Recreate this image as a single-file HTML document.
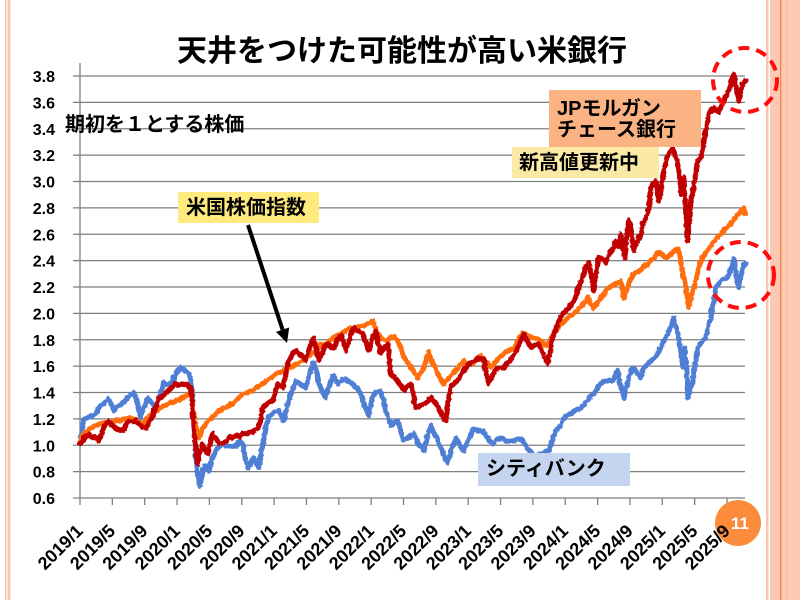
<!DOCTYPE html>
<html><head><meta charset="utf-8">
<style>
html,body{margin:0;padding:0;background:#fff;}
svg{display:block;}
text{font-family:"Liberation Sans","Noto Sans CJK JP",sans-serif;font-weight:bold;fill:#000;}
</style></head>
<body>
<svg width="800" height="600" viewBox="0 0 800 600" xmlns="http://www.w3.org/2000/svg">
<defs>
<filter id="rough" filterUnits="userSpaceOnUse" x="60" y="40" width="720" height="480">
<feTurbulence type="turbulence" baseFrequency="0.15" numOctaves="2" seed="7" result="t"/>
<feDisplacementMap in="SourceGraphic" in2="t" scale="3" xChannelSelector="R" yChannelSelector="G"/>
</filter>
</defs>
<rect x="0" y="0" width="800" height="600" fill="#fff"/>
<!-- frame -->
<rect x="5" y="0" width="1.5" height="600" fill="#f7c3ad"/>
<rect x="7.5" y="0" width="3" height="600" fill="#fbc4ae"/>
<rect x="766" y="0" width="2.5" height="600" fill="#fbc4ae"/>
<rect x="770" y="0" width="30" height="600" fill="#fdc9b4"/>
<rect x="780" y="0" width="1.3" height="600" fill="#f8853b"/>
<rect x="786" y="0" width="1.5" height="600" fill="#fbbfa6"/>

<!-- title -->
<text x="402" y="61" font-size="30" text-anchor="middle">天井をつけた可能性が高い米銀行</text>

<!-- gridlines -->
<g stroke="#7f7f7f" stroke-width="1.3">
<line x1="73" y1="471.6" x2="745" y2="471.6"/>
<line x1="73" y1="445.25" x2="745" y2="445.25"/>
<line x1="73" y1="418.9" x2="745" y2="418.9"/>
<line x1="73" y1="392.5" x2="745" y2="392.5"/>
<line x1="73" y1="366.1" x2="745" y2="366.1"/>
<line x1="73" y1="339.75" x2="745" y2="339.75"/>
<line x1="73" y1="313.4" x2="745" y2="313.4"/>
<line x1="73" y1="287" x2="745" y2="287"/>
<line x1="73" y1="260.6" x2="745" y2="260.6"/>
<line x1="73" y1="234.25" x2="745" y2="234.25"/>
<line x1="73" y1="207.9" x2="745" y2="207.9"/>
<line x1="73" y1="181.5" x2="745" y2="181.5"/>
<line x1="73" y1="155.1" x2="745" y2="155.1"/>
<line x1="73" y1="128.75" x2="745" y2="128.75"/>
<line x1="73" y1="102.4" x2="745" y2="102.4"/>
<line x1="73" y1="76" x2="745" y2="76"/>
<!-- axes -->
<line x1="80" y1="63" x2="80" y2="498"/>
<line x1="73" y1="498" x2="745" y2="498"/>
</g>
<g stroke="#7f7f7f" stroke-width="1.3">
<line x1="80" y1="498" x2="80" y2="505"/>
<line x1="112.35" y1="498" x2="112.35" y2="505"/>
<line x1="144.7" y1="498" x2="144.7" y2="505"/>
<line x1="177.05" y1="498" x2="177.05" y2="505"/>
<line x1="209.4" y1="498" x2="209.4" y2="505"/>
<line x1="241.75" y1="498" x2="241.75" y2="505"/>
<line x1="274.1" y1="498" x2="274.1" y2="505"/>
<line x1="306.45" y1="498" x2="306.45" y2="505"/>
<line x1="338.8" y1="498" x2="338.8" y2="505"/>
<line x1="371.15" y1="498" x2="371.15" y2="505"/>
<line x1="403.5" y1="498" x2="403.5" y2="505"/>
<line x1="435.85" y1="498" x2="435.85" y2="505"/>
<line x1="468.2" y1="498" x2="468.2" y2="505"/>
<line x1="500.55" y1="498" x2="500.55" y2="505"/>
<line x1="532.9" y1="498" x2="532.9" y2="505"/>
<line x1="565.25" y1="498" x2="565.25" y2="505"/>
<line x1="597.6" y1="498" x2="597.6" y2="505"/>
<line x1="629.95" y1="498" x2="629.95" y2="505"/>
<line x1="662.3" y1="498" x2="662.3" y2="505"/>
<line x1="694.65" y1="498" x2="694.65" y2="505"/>
<line x1="727" y1="498" x2="727" y2="505"/>
</g>

<!-- y labels -->
<g font-size="16" text-anchor="end">
<text x="55" y="504">0.6</text>
<text x="55" y="477.6">0.8</text>
<text x="55" y="451.25">1.0</text>
<text x="55" y="424.9">1.2</text>
<text x="55" y="398.5">1.4</text>
<text x="55" y="372.1">1.6</text>
<text x="55" y="345.75">1.8</text>
<text x="55" y="319.4">2.0</text>
<text x="55" y="293">2.2</text>
<text x="55" y="266.6">2.4</text>
<text x="55" y="240.25">2.6</text>
<text x="55" y="213.9">2.8</text>
<text x="55" y="187.5">3.0</text>
<text x="55" y="161.1">3.2</text>
<text x="55" y="134.75">3.4</text>
<text x="55" y="108.4">3.6</text>
<text x="55" y="82">3.8</text>
</g>

<!-- series -->
<g fill="none" stroke-width="5" stroke-linejoin="round" stroke-linecap="round" filter="url(#rough)">
<polyline stroke="#4f7fd4" points="80,440 82,420 86,417 90,416 95,413 100,405 104,402 108,398 111,405 113,410 116,406 118,405 122,402 126,398 130,394 133,392 136,400 140,417 143,408 147,397 151,402 155,407 159,395 163,382 167,384 172,380 176,372 180,367 184,369 188,373 190,380 191,387 193,420 195,457 197,475 199,485 201,475 203,467 206,465 208,470 211,458 215,450 218,446 222,443 228,446 235,445 239,441 242,443 245,460 248,467 250,462 253,457 256,463 258,467 260,455 262,443 265,428 268,415 273,412 278,410 283,420 286,408 288,400 292,388 295,380 300,384 305,387 309,372 313,362 316,372 318,383 321,390 325,397 328,386 332,375 337,383 342,378 347,380 352,384 357,387 360,393 362,400 365,408 368,415 371,400 373,393 377,391 380,390 383,400 385,410 388,418 390,425 394,421 397,420 400,432 403,440 408,437 413,433 418,443 423,450 427,435 430,425 434,433 437,440 442,452 447,462 451,448 455,437 459,444 463,450 468,438 473,428 478,430 482,430 487,437 492,443 496,440 500,437 506,440 513,440 518,438 522,440 526,446 530,452 535,455 540,453 544,452 548,450 552,438 555,430 558,426 560,425 563,418 565,415 570,413 575,410 580,407 585,402 589,397 593,393 597,387 600,383 603,380 608,380 613,380 615,372 617,370 620,385 623,397 626,385 630,372 633,367 637,373 640,377 643,368 647,363 651,360 654,357 657,353 660,347 664,338 667,333 670,325 673,317 675,325 678,337 680,352 682,367 683,358 684,347 686,370 687,397 689,390 692,380 694,365 697,347 700,343 703,340 705,337 708,325 710,317 712,305 715,287 718,283 720,280 724,278 727,277 730,268 733,258 735,270 737,282 738,287 740,275 742,267 745,263"/>
<polyline stroke="#ff6d0a" points="80,440 84,432 88,428 93,426 97,424 102,422 108,422 115,420 120,420 124,418 128,417 133,419 137,421 142,423 146,418 149,415 152,413 157,409 162,405 166,404 170,402 175,400 180,398 185,395 188,393 190,393 192,403 193,413 195,425 198,437 200,432 202,427 205,423 208,420 213,415 218,410 222,408 227,406 232,403 237,398 242,393 247,392 252,390 257,386 262,383 266,380 270,377 275,373 280,371 284,369 288,367 292,366 297,363 302,360 307,356 312,352 316,349 320,343 324,345 328,340 333,337 337,334 341,333 345,330 350,327 354,329 358,326 362,325 366,323 369,322 372,320 375,328 377,333 380,337 383,339 387,340 391,336 395,337 399,345 403,357 406,361 410,365 413,371 417,377 420,372 423,367 426,358 428,352 431,360 434,366 437,373 440,378 443,383 446,380 450,375 453,372 456,368 460,364 463,360 466,365 470,362 473,363 476,358 480,355 483,360 487,364 490,367 494,362 497,358 500,355 505,351 509,349 513,347 516,342 519,337 522,332 526,334 530,336 533,337 537,338 541,341 545,345 549,340 553,333 557,328 560,323 564,320 568,316 573,313 577,309 581,305 585,300 587,297 590,303 593,308 597,301 601,296 604,292 607,287 611,285 616,282 620,280 622,290 623,297 626,288 630,278 633,273 637,271 641,268 644,265 647,263 651,259 654,256 657,252 660,253 664,256 667,257 670,253 674,250 677,248 679,255 682,273 684,280 686,292 688,307 690,298 693,287 696,275 698,266 700,260 703,255 706,251 710,245 713,241 716,237 720,233 723,230 727,226 730,223 733,219 736,215 738,213 741,210 743,207 745,213"/>
<polyline stroke="#c00000" points="80,443 84,437 88,433 91,437 94,436 98,440 101,432 104,425 108,420 111,424 115,427 118,429 122,430 125,425 128,420 132,421 135,420 138,423 142,426 145,428 149,420 152,415 155,406 158,398 162,395 165,392 168,390 172,386 175,383 178,384 182,383 186,384 190,387 191,395 193,427 195,448 197,463 199,455 201,443 204,448 207,453 210,440 212,433 215,438 218,442 222,443 226,440 229,436 232,437 236,434 239,436 242,432 246,433 249,431 252,432 255,429 258,427 260,418 262,407 265,405 268,402 272,400 275,390 277,383 280,386 282,388 285,372 288,360 292,352 295,350 300,354 302,356 305,360 309,346 313,337 316,350 318,360 321,353 324,345 327,343 330,346 333,347 337,338 340,335 343,343 345,350 349,338 353,327 357,330 362,333 365,342 368,350 371,339 375,330 378,343 380,353 384,347 387,343 389,360 390,373 394,377 397,380 400,385 403,390 406,386 410,383 413,396 415,407 419,405 423,403 427,400 430,397 434,402 438,407 441,414 445,420 447,402 450,387 453,383 457,380 460,374 463,370 467,365 470,362 474,360 477,358 480,358 483,358 485,370 488,383 492,374 497,367 500,367 503,367 508,361 513,355 518,344 523,333 526,340 530,347 534,345 538,343 542,352 545,360 547,363 550,346 553,333 556,326 558,320 560,316 562,313 565,310 568,307 571,303 573,300 576,293 578,287 581,278 585,267 588,262 590,274 593,290 595,273 598,257 602,258 605,262 607,257 610,251 613,247 615,240 618,246 620,233 622,245 624,257 626,235 628,220 631,232 633,250 635,243 637,240 640,235 642,223 645,218 647,213 649,200 650,187 652,184 655,180 657,190 658,200 660,190 663,170 665,163 668,153 670,150 672,147 675,155 677,163 679,180 680,193 682,185 683,177 685,210 687,240 688,225 690,200 692,192 693,187 695,172 697,160 700,157 702,148 703,140 706,125 708,113 711,110 713,107 716,111 718,112 720,105 723,100 726,94 728,90 731,80 733,73 735,85 737,95 738,100 740,90 742,83 745,80"/>
</g>

<!-- annotation boxes -->
<rect x="178" y="192" width="141" height="31" fill="#ffeb7d"/>
<rect x="512" y="147" width="147" height="31" fill="#fbeaa6"/>
<rect x="549" y="90" width="152" height="57" fill="#fbb383"/>
<rect x="478" y="453" width="152" height="33" fill="#c6d5ef"/>
<g font-size="20">
<text x="186" y="214">米国株価指数</text>
<text x="519" y="169">新高値更新中</text>
<text x="557" y="115">JPモルガン</text>
<text x="557" y="136">チェース銀行</text>
<text x="486" y="475">シティバンク</text>
<text x="65" y="131">期初を１とする株価</text>
</g>

<!-- arrow -->
<line x1="248" y1="225" x2="282.6" y2="329.7" stroke="#000" stroke-width="4"/>
<polygon points="287,343 289.2,327.5 276,331.9" fill="#000"/>

<!-- dashed circles -->
<g fill="none" stroke="#ff0d0d" stroke-width="4" stroke-dasharray="11 7">
<circle cx="745" cy="80" r="32"/>
<circle cx="741" cy="275" r="33"/>
</g>

<!-- page number circle -->
<circle cx="738" cy="523" r="23" fill="#fa8c3c"/>

<!-- x labels -->
<g font-size="18" text-anchor="end">
<text transform="translate(84,532) rotate(-45)">2019/1</text>
<text transform="translate(116.35,532) rotate(-45)">2019/5</text>
<text transform="translate(148.7,532) rotate(-45)">2019/9</text>
<text transform="translate(181.05,532) rotate(-45)">2020/1</text>
<text transform="translate(213.4,532) rotate(-45)">2020/5</text>
<text transform="translate(245.75,532) rotate(-45)">2020/9</text>
<text transform="translate(278.1,532) rotate(-45)">2021/1</text>
<text transform="translate(310.45,532) rotate(-45)">2021/5</text>
<text transform="translate(342.8,532) rotate(-45)">2021/9</text>
<text transform="translate(375.15,532) rotate(-45)">2022/1</text>
<text transform="translate(407.5,532) rotate(-45)">2022/5</text>
<text transform="translate(439.85,532) rotate(-45)">2022/9</text>
<text transform="translate(472.2,532) rotate(-45)">2023/1</text>
<text transform="translate(504.55,532) rotate(-45)">2023/5</text>
<text transform="translate(536.9,532) rotate(-45)">2023/9</text>
<text transform="translate(569.25,532) rotate(-45)">2024/1</text>
<text transform="translate(601.6,532) rotate(-45)">2024/5</text>
<text transform="translate(633.95,532) rotate(-45)">2024/9</text>
<text transform="translate(666.3,532) rotate(-45)">2025/1</text>
<text transform="translate(698.65,532) rotate(-45)">2025/5</text>
<text transform="translate(731,532) rotate(-45)">2025/9</text>
</g>
<text x="740" y="529" font-size="17" text-anchor="middle" style="fill:#fff">11</text>
</svg>
</body></html>
